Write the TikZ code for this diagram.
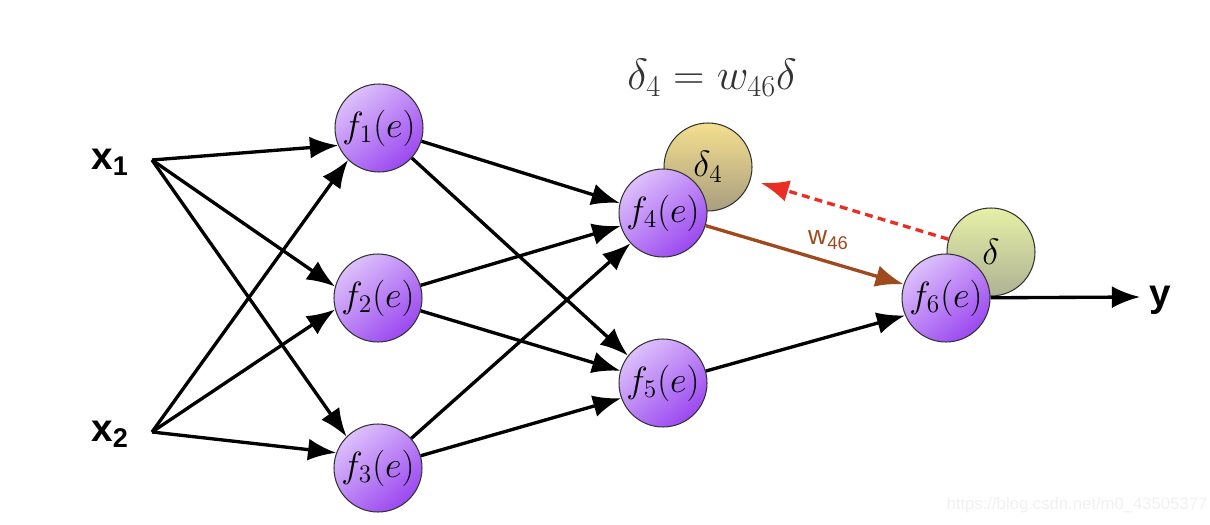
\documentclass[tikz,border=0pt]{standalone}
\usepackage{fontspec}
\setsansfont{Liberation Sans}
\usetikzlibrary{arrows.meta}
\definecolor{neuL}{HTML}{DDC0FB}
\definecolor{neuD}{HTML}{9B48F0}
\definecolor{errL}{HTML}{F3DF8E}
\definecolor{errD}{HTML}{A99E80}
\definecolor{outL}{HTML}{E6F0A6}
\definecolor{outD}{HTML}{AEB294}
\definecolor{wgt}{HTML}{9E4A1E}
\definecolor{back}{HTML}{EA2E24}
\tikzset{>={Latex[length=16pt,width=12.5pt]}}
\tikzset{
  neuron/.style={circle,minimum size=1.76cm,inner sep=0pt,draw=black!80,
    line width=0.6pt,top color=neuL,bottom color=neuD,shading angle=40,
    font=\fontsize{21}{24}\selectfont},
  errball/.style={neuron,top color=errL,bottom color=errD},
  outball/.style={neuron,top color=outL,bottom color=outD},
  link/.style={->,line width=1.9pt,black},
  io/.style={font=\sffamily\bfseries\fontsize{22}{24}\selectfont},
}

\begin{document}
\begin{tikzpicture}[x=0.02cm,y=-0.02cm]
\useasboundingbox (0,0) rectangle (1210,524);
% error balls sit behind f4 and f6
\node[errball] (d4) at (708,167) {$\delta_4$};
\node[outball] (d) at (991,252) {$\delta$};
% neurons
\node[neuron] (f1) at (379,128) {$f_1(e)$};
\node[neuron] (f2) at (378,298) {$f_2(e)$};
\node[neuron] (f3) at (378,468) {$f_3(e)$};
\node[neuron] (f4) at (663,213) {$f_4(e)$};
\node[neuron] (f5) at (663,383) {$f_5(e)$};
\node[neuron] (f6) at (946,298) {$f_6(e)$};
% inputs and output
\node[io] (x1) at (110,162) {x\textsubscript{1}};
\node[io] (x2) at (110,434) {x\textsubscript{2}};
\node[io] (y) at (1160,300) {y};
\coordinate (x1o) at (152,160);
\coordinate (x2o) at (152,432);
\coordinate (yo) at (1140,297);
% formula
\node[font=\fontsize{26}{30}\selectfont,text=black!80] (eq) at (712,78)
  {$\delta_4 = w_{46}\delta$};
% layer 1
\draw[link] (x1o) -- (f1.203);
\draw[link] (x1o) -- (f2.165);
\draw[link] (x1o) -- (f3.135);
\draw[link] (x2o) -- (f1.226);
\draw[link] (x2o) -- (f2.195);
\draw[link] (x2o) -- (f3.160);
% layer 2
\draw[link] (f1) -- (f4.167);
\draw[link] (f1) -- (f5.142);
\draw[link] (f2) -- (f4.197);
\draw[link] (f2) -- (f5.164);
\draw[link] (f3) -- (f4.223);
\draw[link] (f3) -- (f5.200);
% output layer
\draw[link] (f5) -- (f6.203);
\draw[link,wgt] (f4) -- (f6.162)
  node[pos=0.62,above=3pt,text=wgt,font=\sffamily\fontsize{15}{17}\selectfont] (w46) {w\textsubscript{46}};
\draw[link] (f6) -- (yo);
% back propagation of the error
\draw[->,back,line width=1.9pt,dash pattern=on 4.5pt off 3pt,shorten >=6pt] (d) -- (d4);
% watermark
\node[font=\sffamily\fontsize{9.5}{11}\selectfont,text=black!6] (wm) at (1077,505)
  {https://blog.csdn.net/m0\_43505377};
\end{tikzpicture}
\end{document}
